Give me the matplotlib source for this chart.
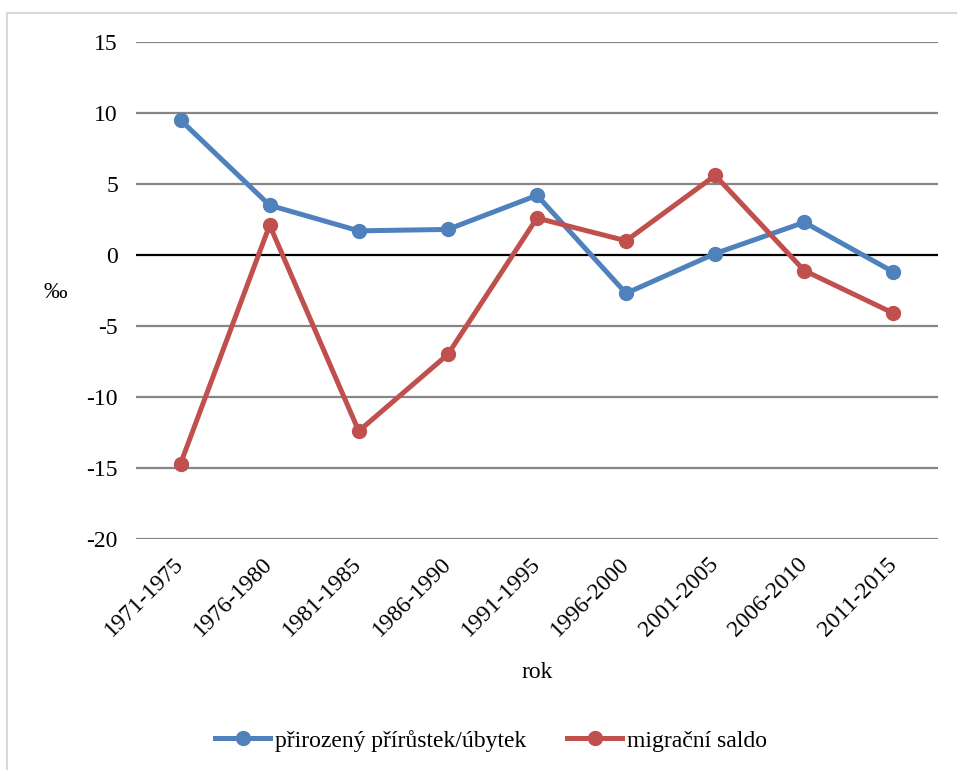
import matplotlib.pyplot as plt
import numpy as np

plt.rcParams['font.family'] = ['Liberation Serif', 'DejaVu Serif']

obdobi = ['1971-1975', '1976-1980', '1981-1985', '1986-1990', '1991-1995',
          '1996-2000', '2001-2005', '2006-2010', '2011-2015']
prirozeny = [9.5, 3.5, 1.7, 1.8, 4.2, -2.7, 0.1, 2.3, -1.2]
migracni = [-14.7, 2.1, -12.4, -7.0, 2.6, 1.0, 5.6, -1.1, -4.1]
yticks = [-20, -15, -10, -5, 0, 5, 10, 15]
fs = 17

fig = plt.figure(figsize=(9.57, 7.70), dpi=100)
ax = fig.add_axes([0.1421, 0.30, 0.838, 0.6455])

x = np.arange(len(obdobi))
for t in yticks:
    ax.axhline(t, color='black' if t == 0 else '#868686', lw=1.6, zorder=1)

ax.plot(x, prirozeny, color='#4F81BD', lw=3.6, marker='o', ms=10,
        label='přirozený přírůstek/úbytek', zorder=3)
ax.plot(x, migracni, color='#C0504D', lw=3.6, marker='o', ms=10,
        label='migrační saldo', zorder=3)

ax.set_xlim(-0.5, len(obdobi) - 0.5)
ax.set_ylim(-20, 15)
ax.set_yticks(yticks)
ax.set_yticklabels([str(t) for t in yticks], fontsize=fs)
ax.set_xticks(x)
ax.set_xticklabels(obdobi, fontsize=fs, rotation=45, ha='right', va='center',
                   rotation_mode='anchor')
ax.tick_params(length=0)
ax.tick_params(axis='y', pad=13)
ax.tick_params(axis='x', pad=16)
for s in ax.spines.values():
    s.set_visible(False)

fig.text(0.058, 0.62, '‰', fontsize=fs, ha='center', va='center')
fig.text(0.561, 0.127, 'rok', fontsize=fs, ha='center', va='center')

fig.legend(loc='center', bbox_to_anchor=(0.513, 0.038), ncol=2, frameon=False,
           fontsize=fs, handlelength=2.33, columnspacing=1.74, handletextpad=0.2)

# ramecek kolem grafu
fig.add_artist(plt.Line2D([0.0075, 0.0075], [0, 0.983], color='#d9d9d9', lw=1.5))
fig.add_artist(plt.Line2D([0.0075, 1.0], [0.983, 0.983], color='#d9d9d9', lw=1.5))

fig.savefig('out.png', dpi=100)
